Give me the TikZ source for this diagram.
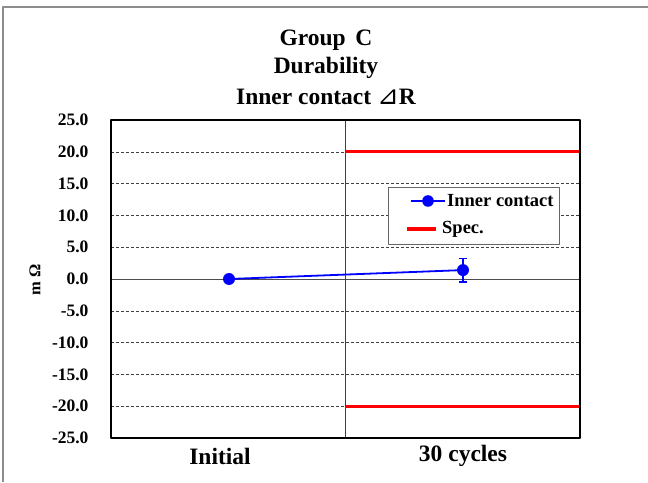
\documentclass[tikz,border=0pt]{standalone}
\usepackage{fontspec}
\setmainfont{Liberation Serif}
\newfontfamily\trifont{DejaVu Sans}
\usepackage{tikz}
\tikzset{>=latex}
\usetikzlibrary{positioning}
\tikzset{
  grid line/.style={black!75, densely dashed, line width=0.5pt},
  spec line/.style={red, line width=3.2pt},
  data line/.style={blue, line width=1.8pt},
  tick label/.style={anchor=east, font=\fontsize{17.5}{20}\selectfont\bfseries},
  cat label/.style={font=\fontsize{23.5}{26}\selectfont\bfseries},
  legend text/.style={anchor=west, font=\fontsize{18.5}{21}\selectfont\bfseries, inner sep=0pt}
}

\begin{document}
\begin{tikzpicture}[line cap=butt,line join=round,x=1pt,y=1pt]
\useasboundingbox (0,0) rectangle (648,482);
\draw[black!45,line width=1.6pt] (3,0) -- (3,475) -- (648,475);
% title
\node[cat label] (title1) at (326,442) {Group\, C};
\node[cat label] (title2) at (326,414) {Durability};
\node[cat label] (title3) at (326,385) {Inner contact {\trifont\mdseries\fontsize{26}{28}\selectfont ⊿}R};
% plot area, origin at 0.0 of the axis
\begin{scope}[shift={(111,203)},y=6.36pt]
  \foreach \v in {-20,-15,-10,-5,5,10,15,20}
    \draw[grid line] (0,\v) -- (469,\v);
  \draw[black!70,line width=0.8pt] (0,0) -- (469,0);
  \draw[black!75,line width=0.7pt] (234.5,-25) -- (234.5,25);
  \draw[spec line] (234.5,20) -- (469,20);
  \draw[spec line] (234.5,-20) -- (469,-20);
  \draw[line width=1.8pt] (0,-25) rectangle (469,25);
  \foreach \v/\t in {25/25.0,20/20.0,15/15.0,10/10.0,5/5.0,0/0.0,-5/-5.0,-10/-10.0,-15/-15.0,-20/-20.0,-25/-25.0}
    \node[tick label] at (-19,\v) {\t};
  % data
  \coordinate (pInit) at (118,0);
  \coordinate (pCyc) at (352,1.4);
  \draw[data line] (pInit) -- (pCyc);
  \draw[blue,line width=1.5pt] (352,-0.45) -- (352,3.25);
  \draw[blue,line width=1.5pt] (348,-0.45) -- (356,-0.45);
  \draw[blue,line width=1.5pt] (348,3.25) -- (356,3.25);
  \fill[blue] (pInit) circle (6pt);
  \fill[blue] (pCyc) circle (6pt);
\end{scope}
% axis texts
\node[cat label] (xInit) at (220,26) {Initial};
\node[cat label] (xCyc) at (463,26) {30 cycles};
\node[rotate=90,font=\fontsize{16.5}{18}\selectfont\bfseries] (ylab) at (35,202) {m Ω};
% legend
\draw[black!60,line width=0.8pt,fill=white] (388,295) rectangle (559,238);
\draw[data line] (411,281) -- (445,281);
\fill[blue] (428,281) circle (5.8pt);
\node[legend text] (legData) at (447,281) {Inner contact};
\draw[spec line] (407,253) -- (436,253);
\node[legend text] (legSpec) at (442,253) {Spec.};
\end{tikzpicture}
\end{document}
